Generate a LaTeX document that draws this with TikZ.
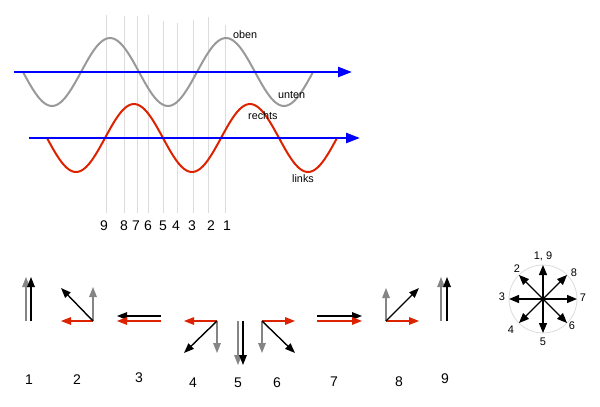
\documentclass[tikz,border=0pt]{standalone}
\usepackage{fontspec}
\setmainfont{Liberation Sans}
\usetikzlibrary{arrows.meta}
\definecolor{grisonda}{HTML}{999999}
\definecolor{grisvec}{HTML}{858585}
\definecolor{rojo}{HTML}{DD2200}
\definecolor{guia}{HTML}{DCDCDC}
\begin{document}
\begin{tikzpicture}[x=1pt, y=-1pt,
  eje/.style={blue, line width=2.4pt, -{Triangle[length=14pt,width=10pt]}},
  onda/.style={line width=2pt},
  vec/.style={line width=1.4pt, -{Triangle[length=10pt,width=7.5pt]}},
  vecc/.style={line width=1.3pt, -{Triangle[length=10pt,width=8pt]}},
  etiq/.style={font=\fontsize{10.8}{12}\selectfont, inner sep=0pt},
  num/.style={font=\fontsize{14}{16}\selectfont, inner sep=0pt},
  numc/.style={font=\fontsize{11}{12}\selectfont, inner sep=0pt}]
\useasboundingbox (0,0) rectangle (600,407);

% Lineas guia
\foreach \x/\t in {106/15, 124/16, 137/16, 148/15, 163/21, 177/23, 193/20, 208/17, 225/25}
  \draw[guia, line width=0.6pt] (\x,\t) -- (\x,213);
\foreach \x/\n in {104/9, 124/8, 136/7, 148/6, 163/5, 176/4, 192/3, 211/2, 227/1}
  \node[num] at (\x,226) {\n};

% Ondas
\draw[onda, grisonda] plot[domain=23:313, samples=120] (\x, {72+34*sin(3.1034*(\x-23))});
\draw[onda, rojo] plot[domain=47:337, samples=120] (\x, {138+34*sin(3.1034*(\x-47))});

% Ejes
\coordinate (E1a) at (14,72);
\coordinate (E1b) at (352,72);
\coordinate (E2a) at (29,138);
\coordinate (E2b) at (360,138);
\draw[eje] (E1a) -- (E1b);
\draw[eje] (E2a) -- (E2b);

% Etiquetas
\node[etiq, anchor=west] (oben) at (233,35) {oben};
\node[etiq, anchor=west] (unten) at (278,95) {unten};
\node[etiq, anchor=west] (rechts) at (248,116) {rechts};
\node[etiq, anchor=west] (links) at (292,179) {links};

% Vectores 1
\coordinate (A1g) at (26,321); \coordinate (B1g) at (26,277);
\coordinate (A1k) at (31,321); \coordinate (B1k) at (31,277);
\draw[vec, grisvec] (A1g) -- (B1g);
\draw[vec, black] (A1k) -- (B1k);

% Vectores 2
\coordinate (O2) at (93,321);
\draw[vec, rojo] (O2) -- (61,321);
\draw[vec, grisvec] (O2) -- (93,287);
\draw[vec, black] (O2) -- (61,288);

% Vectores 3
\coordinate (A3k) at (161,316); \coordinate (B3k) at (117,316);
\coordinate (A3r) at (161,321); \coordinate (B3r) at (117,321);
\draw[vec, black] (A3k) -- (B3k);
\draw[vec, rojo] (A3r) -- (B3r);

% Vectores 4
\coordinate (O4) at (217,321);
\draw[vec, rojo] (O4) -- (184,321);
\draw[vec, grisvec] (O4) -- (217,353);
\draw[vec, black] (O4) -- (184,353);

% Vectores 5
\coordinate (A5g) at (238,321); \coordinate (B5g) at (238,365);
\coordinate (A5k) at (243,321); \coordinate (B5k) at (243,365);
\draw[vec, grisvec] (A5g) -- (B5g);
\draw[vec, black] (A5k) -- (B5k);

% Vectores 6
\coordinate (O6) at (262,321);
\draw[vec, rojo] (O6) -- (295,321);
\draw[vec, grisvec] (O6) -- (262,353);
\draw[vec, black] (O6) -- (295,353);

% Vectores 7
\coordinate (A7k) at (317,316); \coordinate (B7k) at (362,316);
\coordinate (A7r) at (317,321); \coordinate (B7r) at (362,321);
\draw[vec, black] (A7k) -- (B7k);
\draw[vec, rojo] (A7r) -- (B7r);

% Vectores 8
\coordinate (O8) at (386,321);
\draw[vec, rojo] (O8) -- (419,321);
\draw[vec, grisvec] (O8) -- (386,288);
\draw[vec, black] (O8) -- (419,288);

% Vectores 9
\coordinate (A9g) at (441,321); \coordinate (B9g) at (441,277);
\coordinate (A9k) at (447,321); \coordinate (B9k) at (447,277);
\draw[vec, grisvec] (A9g) -- (B9g);
\draw[vec, black] (A9k) -- (B9k);

% Numeros
\foreach \x/\y/\n in {29/380/1, 77/380/2, 139/378/3, 193/383/4, 238/383/5, 277/383/6, 334/382/7, 399/382/8, 445/379/9}
  \node[num] at (\x,\y) {\n};

% Circulo
\coordinate (C) at (543,299);
\draw[guia, line width=0.8pt] (C) circle (34);
\foreach \a in {0,45,...,315}
  \draw[vecc, black] (C) -- ++(\a:34);
\node[numc] at (543,256) {1, 9};
\node[numc] at (517,269) {2};
\node[numc] at (574,273) {8};
\node[numc] at (502,297) {3};
\node[numc] at (583,298) {7};
\node[numc] at (511,330) {4};
\node[numc] at (572,326) {6};
\node[numc] at (543,342) {5};
\end{tikzpicture}
\end{document}
